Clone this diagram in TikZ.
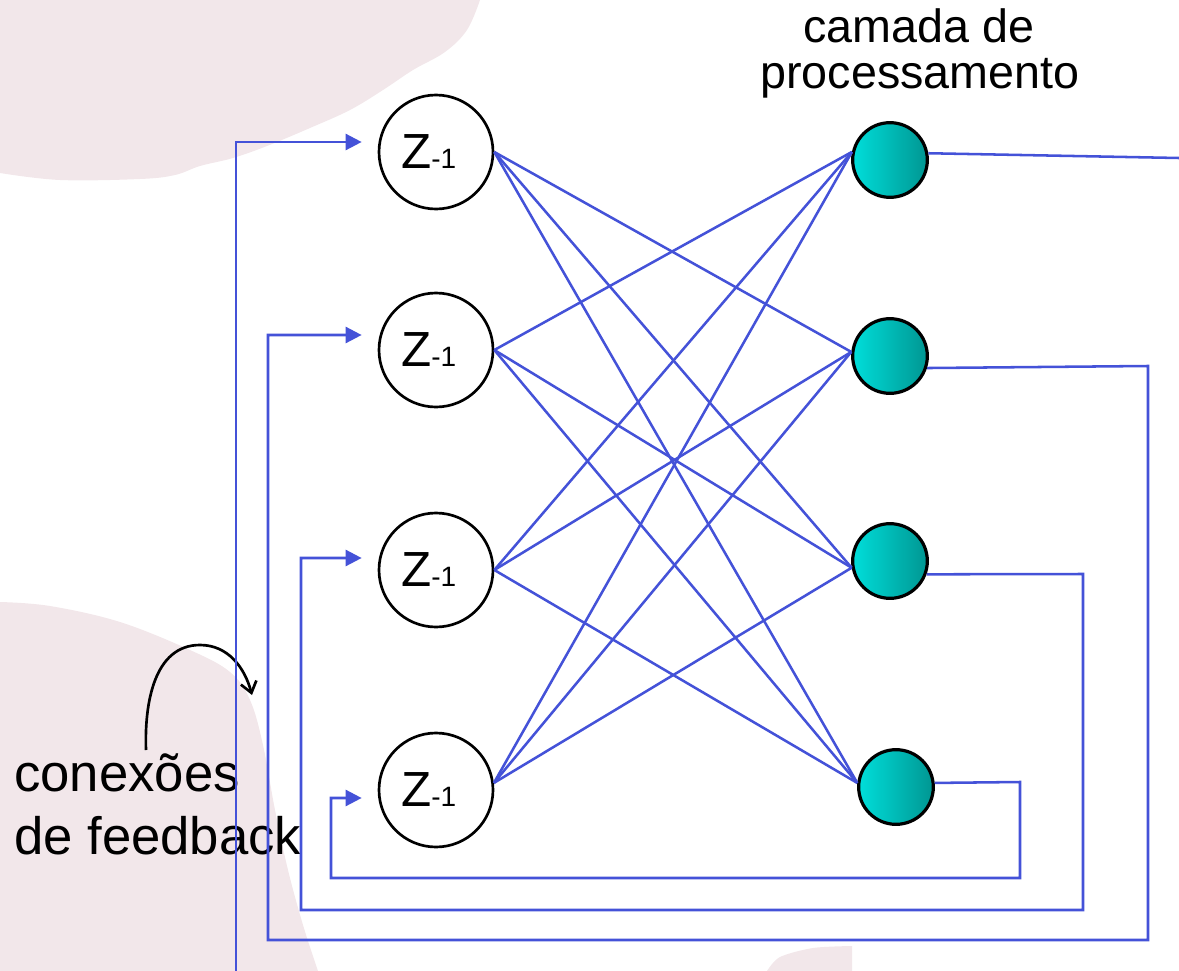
\documentclass[tikz,border=0pt]{standalone}
\usepackage{fontspec}
\setmainfont{Liberation Sans}
\usetikzlibrary{arrows.meta}
\definecolor{wireblue}{RGB}{68,82,216}
\definecolor{blush}{RGB}{242,231,234}
\definecolor{tealL}{RGB}{0,222,218}
\definecolor{tealR}{RGB}{0,150,146}
\newcommand\delaysub[1]{{\fontsize{21}{21}\selectfont #1}\hspace*{11pt}}

\begin{document}
\begin{tikzpicture}[x=0.75pt,y=-0.75pt,
  delay/.style={circle,draw=black,fill=white,line width=2pt,minimum size=85.5pt,
    inner sep=0pt,font=\fontsize{37}{37}\selectfont},
  unit/.style={circle,draw=black,line width=2.4pt,minimum size=56pt,inner sep=0pt,
    left color=tealL,right color=tealR},
  wire/.style={draw=wireblue,line width=1.9pt},
  fb/.style={wire,line join=miter},
  fbin/.style={fb,-{Triangle[length=12pt,width=12pt]},shorten >=12pt},
  toplbl/.style={inner sep=0pt,anchor=base,font=\fontsize{35}{35}\selectfont},
  sidelbl/.style={inner sep=0pt,anchor=base west,font=\fontsize{39.5}{39.5}\selectfont}
]
\useasboundingbox (0,0) rectangle (1179,971);

% background blobs
\fill[blush] (0,0) -- (480,0) -- plot[smooth,tension=0.6] coordinates {
  (480,0) (467,30) (445,52) (413,70) (383,90) (350,110) (310,128) (267,146)
  (233,158) (200,166) (175,175) (140,179) (60,180) (0,173)} -- cycle;
\fill[blush] (0,971) -- plot[smooth,tension=0.6] coordinates {
  (0,602) (50,606) (120,622) (190,650) (230,672) (250,700) (263,745)
  (275,810) (288,870) (303,925) (318,971)} -- cycle;
\fill[blush] (767,971) -- plot[smooth,tension=0.5] coordinates {
  (767,971) (780,957) (813,948) (852,946)} -- (852,971) -- cycle;

% labels
\node[toplbl] (ttl1) at (919,42) {camada de};
\node[toplbl] (ttl2) at (920,88) {processamento};
\node[sidelbl] (side1) at (14,791) {conexões};
\node[sidelbl] (side2) at (14,854) {de feedback};

% pointer from the side label to the feedback wires
\coordinate (c0) at (146,750);
\coordinate (c1) at (200,645);
\coordinate (c2) at (252,695);
\draw[line width=2pt,-{Straight Barb[length=8pt,width=12pt]}]
  (c0) to[out=92,in=180] (c1) to[out=0,in=105] (c2);

% delay units
\node[delay] (z1) at (436,152) {Z\delaysub{-1}};
\node[delay] (z2) at (436,350) {Z\delaysub{-1}};
\node[delay] (z3) at (436,570) {Z\delaysub{-1}};
\node[delay] (z4) at (436,790) {Z\delaysub{-1}};

% processing units
\node[unit] (t1) at (890,160) {};
\node[unit] (t2) at (890,356) {};
\node[unit] (t3) at (890,561) {};
\node[unit] (t4) at (896,787) {};

% each delay unit feeds every processing unit except its own
\foreach \i/\aa in {1/east,2/east,3/east,4/7}{
  \foreach \j/\bb in {1/168,2/174,3/190,4/174}{
    \ifnum\i=\j\relax\else
      \draw[wire] (z\i.\aa) -- (t\j.\bb);
    \fi
  }
}

% feedback loops
\coordinate (e1) at (1179,158);
\coordinate (s1) at (236,971);
\draw[fb] (t1.10) -- (e1);
\draw[fbin] (s1) -- (236,142) -- (z1.west |- 0,142);
\draw[fbin] (t2.-18) -- (1148,366) -- (1148,940) -- (268,940) -- (268,335) -- (z2.west |- 0,335);
\draw[fbin] (t3.-20) -- (1083,574) -- (1083,910) -- (301,910) -- (301,558) -- (z3.west |- 0,558);
\draw[fbin] (t4.6) -- (1020,782) -- (1020,878) -- (331,878) -- (331,798) -- (z4.west |- 0,798);
\end{tikzpicture}
\end{document}
